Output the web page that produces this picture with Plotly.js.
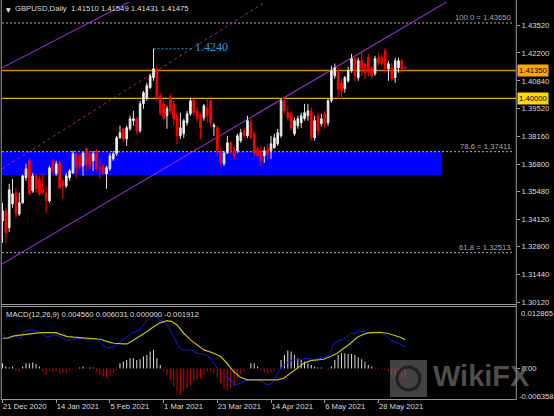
<!DOCTYPE html>
<html><head><meta charset="utf-8">
<script src="https://cdn.plot.ly/plotly-3.0.1.min.js"></script>
<style>html,body{margin:0;padding:0;background:#000;}#c{width:554px;height:416px;}</style>
</head><body><div id="c"></div>
<script>
const dates = ["2020-12-21","2020-12-22","2020-12-23","2020-12-24","2020-12-28","2020-12-29","2020-12-30","2020-12-31",
"2021-01-04","2021-01-05","2021-01-06","2021-01-07","2021-01-08","2021-01-11","2021-01-12","2021-01-13","2021-01-14","2021-01-15","2021-01-18","2021-01-19","2021-01-20","2021-01-21","2021-01-22","2021-01-25","2021-01-26","2021-01-27","2021-01-28","2021-01-29",
"2021-02-01","2021-02-02","2021-02-03","2021-02-04","2021-02-05","2021-02-08","2021-02-09","2021-02-10","2021-02-11","2021-02-12","2021-02-15","2021-02-16","2021-02-17","2021-02-18","2021-02-19","2021-02-22","2021-02-23","2021-02-24","2021-02-25","2021-02-26",
"2021-03-01","2021-03-02","2021-03-03","2021-03-04","2021-03-05","2021-03-08","2021-03-09","2021-03-10","2021-03-11","2021-03-12","2021-03-15","2021-03-16","2021-03-17","2021-03-18","2021-03-19","2021-03-22","2021-03-23","2021-03-24","2021-03-25","2021-03-26","2021-03-29","2021-03-30","2021-03-31",
"2021-04-01","2021-04-02","2021-04-05","2021-04-06","2021-04-07","2021-04-08","2021-04-09","2021-04-12","2021-04-13","2021-04-14","2021-04-15","2021-04-16","2021-04-19","2021-04-20","2021-04-21","2021-04-22","2021-04-23","2021-04-26","2021-04-27","2021-04-28","2021-04-29","2021-04-30",
"2021-05-03","2021-05-04","2021-05-05","2021-05-06","2021-05-07","2021-05-10","2021-05-11","2021-05-12","2021-05-13","2021-05-14","2021-05-17","2021-05-18","2021-05-19","2021-05-20","2021-05-21","2021-05-24","2021-05-25","2021-05-26","2021-05-27","2021-05-28","2021-05-31",
"2021-06-01","2021-06-02","2021-06-03","2021-06-04","2021-06-07","2021-06-08","2021-06-09"];

const open = [
1.3405,1.3454,1.3372,1.3488,1.3541,1.3439,1.3493,1.3614,1.3697,1.3551,
1.3624,1.3609,1.3561,1.3541,1.3503,1.3697,1.3634,1.3687,1.3600,1.3575,
1.3614,1.3638,1.3731,1.3721,1.3672,1.3755,1.3731,1.3697,1.3745,1.3663,
1.3672,1.3634,1.3658,1.3706,1.3731,1.3808,1.3852,1.3803,1.3852,1.3891,
1.3901,1.3842,1.3973,1.3998,1.4051,1.4100,1.4143,1.4012,1.3973,1.3915,
1.4007,1.3973,1.3915,1.3818,1.3828,1.3881,1.3925,1.3993,1.3939,1.3920,
1.3905,1.3954,1.3988,1.3862,1.3857,1.3745,1.3682,1.3735,1.3784,1.3755,
1.3745,1.3794,1.3842,1.3818,1.3881,1.3828,1.3755,1.3745,1.3721,1.3755,
1.3745,1.3760,1.3779,1.3818,1.3988,1.3930,1.3925,1.3828,1.3867,1.3881,
1.3901,1.3915,1.3939,1.3808,1.3915,1.3876,1.3925,1.3881,1.3988,1.4109,
1.4134,1.4075,1.4046,1.4085,1.4134,1.4192,1.4100,1.4182,1.4167,1.4197,
1.4148,1.4119,1.4197,1.4197,1.4231,1.4143,1.4148,1.4100,1.4148,1.4182,
1.41510];
const high = [
1.3493,1.3469,1.3585,1.3609,1.3566,1.3541,1.3630,1.3682,1.3711,1.3638,
1.3634,1.3624,1.3638,1.3575,1.3672,1.3706,1.3697,1.3697,1.3605,1.3638,
1.3658,1.3745,1.3735,1.3731,1.3740,1.3760,1.3745,1.3745,1.3755,1.3706,
1.3682,1.3672,1.3735,1.3745,1.3818,1.3867,1.3857,1.3867,1.3915,1.3939,
1.3910,1.3988,1.4036,1.4075,1.4119,1.4240,1.4153,1.4027,1.3988,1.3964,
1.4022,1.3988,1.3930,1.3930,1.3901,1.3939,1.4003,1.4007,1.3959,1.3930,
1.3973,1.3998,1.3998,1.3881,1.3867,1.3755,1.3745,1.3818,1.3794,1.3769,
1.3828,1.3852,1.3857,1.3915,1.3901,1.3842,1.3769,1.3769,1.3764,1.3779,
1.3818,1.3828,1.3852,1.3998,1.4003,1.3964,1.3939,1.3905,1.3915,1.3930,
1.3973,1.3973,1.3954,1.3915,1.3930,1.3925,1.3939,1.3998,1.4158,1.4168,
1.4148,1.4095,1.4109,1.4153,1.4216,1.4206,1.4197,1.4231,1.4172,1.4216,
1.4158,1.4206,1.4221,1.4206,1.4245,1.4182,1.4172,1.4197,1.4197,1.4192,
1.41549];
const low = [
1.3299,1.3299,1.3352,1.3469,1.3420,1.3430,1.3488,1.3600,1.3530,1.3541,
1.3541,1.3527,1.3537,1.3444,1.3493,1.3634,1.3624,1.3560,1.3512,1.3566,
1.3600,1.3634,1.3614,1.3658,1.3624,1.3648,1.3658,1.3648,1.3648,1.3609,
1.3630,1.3561,1.3648,1.3697,1.3721,1.3803,1.3784,1.3769,1.3842,1.3867,
1.3828,1.3833,1.3949,1.3988,1.4046,1.4085,1.3988,1.3915,1.3891,1.3852,
1.3925,1.3867,1.3779,1.3803,1.3808,1.3867,1.3915,1.3915,1.3881,1.3803,
1.3891,1.3881,1.3867,1.3818,1.3721,1.3672,1.3672,1.3731,1.3731,1.3706,
1.3735,1.3784,1.3808,1.3808,1.3803,1.3721,1.3711,1.3672,1.3687,1.3706,
1.3706,1.3755,1.3769,1.3808,1.3925,1.3891,1.3842,1.3818,1.3852,1.3857,
1.3891,1.3891,1.3794,1.3794,1.3818,1.3862,1.3852,1.3867,1.3978,1.4095,
1.3998,1.3998,1.4027,1.4075,1.4124,1.4085,1.4085,1.4109,1.4095,1.4109,
1.4095,1.4109,1.4158,1.4158,1.4124,1.4085,1.4085,1.4075,1.4124,1.4124,
1.41431];
const close = [
1.3454,1.3347,1.3556,1.3537,1.3439,1.3493,1.3624,1.3658,1.3537,1.3624,
1.3561,1.3537,1.3541,1.3503,1.3663,1.3648,1.3682,1.3566,1.3575,1.3624,
1.3648,1.3731,1.3663,1.3672,1.3735,1.3682,1.3672,1.3731,1.3658,1.3658,
1.3634,1.3663,1.3721,1.3731,1.3808,1.3833,1.3803,1.3857,1.3901,1.3901,
1.3842,1.3973,1.4027,1.4061,1.4109,1.4143,1.4002,1.3930,1.3905,1.3949,
1.3939,1.3901,1.3818,1.3857,1.3891,1.3925,1.3988,1.3930,1.3901,1.3857,
1.3964,1.3915,1.3881,1.3870,1.3745,1.3687,1.3735,1.3784,1.3745,1.3721,
1.3818,1.3833,1.3818,1.3891,1.3808,1.3735,1.3721,1.3697,1.3745,1.3731,
1.3779,1.3808,1.3833,1.3988,1.3939,1.3905,1.3857,1.3891,1.3901,1.3915,
1.3930,1.3939,1.3808,1.3891,1.3842,1.3901,1.3876,1.3988,1.4134,1.4148,
1.4046,1.4036,1.4100,1.4134,1.4192,1.4109,1.4182,1.4143,1.4124,1.4124,
1.4109,1.4192,1.4172,1.4167,1.4143,1.4167,1.4095,1.4182,1.4182,1.4143,
1.41475];

// MACD panel
const hist = [
0.00111,0.00042,0.00028,0.00042,-0.00042,-0.00056,0.00042,0.00111,0.00111,0.00125,
0.00098,0.00042,-0.00063,-0.00132,-0.00063,-0.00084,-0.00063,-0.00098,-0.00084,-0.00098,
-0.00063,-0.00014,-0.00014,0.00021,0.00042,-0.00007,0.00021,0.00021,-0.00063,-0.00132,
-0.00167,-0.00181,-0.00153,-0.00098,-0.00042,0.00111,0.00146,0.00181,0.00216,0.00216,
0.00181,0.00195,0.00251,0.00286,0.00355,0.00390,0.00216,0.00077,-0.00063,-0.00132,
-0.00237,-0.00376,-0.00481,-0.00550,-0.00481,-0.00411,-0.00341,-0.00272,-0.00237,-0.00202,
-0.00132,-0.00063,-0.00063,-0.00098,-0.00202,-0.00306,-0.00432,-0.00446,-0.00411,-0.00362,
-0.00202,-0.00111,-0.00063,-0.00014,0.00111,0.00111,0.00042,-0.00042,-0.00084,-0.00098,
-0.00084,-0.00042,-0.00014,0.00181,0.00286,0.00376,0.00355,0.00286,0.00216,0.00181,
0.00146,0.00111,0.00077,0.00042,0.00021,0.00021,-0.00007,-0.00028,0.00042,0.00181,
0.00286,0.00320,0.00320,0.00306,0.00306,0.00286,0.00237,0.00195,0.00146,0.00077,
0.00042,-0.00014,-0.00014,-0.00014,-0.00028,-0.00063,-0.00132,-0.00167,-0.00181,-0.00202,
-0.001912];
const macdPos = [0,0.9,2.4,3.9,5.4,6.4,7.8,9.3,10.8,12.3,13.3,15.3,17.3,18.8,20.3,22.2,25.2,28.2,29.2,31.2,33.2,35.2,37.1,39.1,40.6,42.1,43.6,44.4,45.1,46.0,46.6,48.1,49.6,51.0,52.5,53.5,56.0,58.0,60.0,61.5,63.0,64.4,65.9,67.9,69.4,70.9,72.4,73.9,75.9,77.4,78.8,80.3,81.8,83.3,84.8,86.3,87.8,89.3,90.8,92.3,93.7,95.2,96.7,97.7,98.7,99.7,101.2,102.2,103.7,105.2,106.2,107.6,109.6,112.6,114.6,115.6,117.6,120];
const macdVal = [0.00738,0.00634,0.00669,0.00683,0.00634,0.00773,0.00808,0.00808,0.00773,0.00703,0.00655,0.00703,0.00669,0.00599,0.00599,0.00634,0.00613,0.00613,0.00529,0.00425,0.00460,0.00564,0.00669,0.00773,0.00794,0.00912,0.01052,0.01110,0.01165,0.01110,0.01017,0.00982,0.00843,0.00669,0.00460,0.00390,0.00390,0.00320,0.00299,0.00251,0.00111,-0.00028,-0.00132,-0.00237,-0.00341,-0.00306,-0.00251,-0.00237,-0.00237,-0.00272,-0.00341,-0.00306,-0.00132,0.00042,0.00111,0.00181,0.00181,0.00195,0.00216,0.00195,0.00195,0.00216,0.00251,0.00320,0.00529,0.00564,0.00599,0.00634,0.00738,0.00738,0.00794,0.00773,0.00738,0.00738,0.00683,0.00599,0.00529,0.00456];
const sigPos = [0,1.4,3.4,5.4,7.3,9.3,11.3,13.3,15.8,17.8,19.3,21.3,24.2,27.2,29.2,31.2,33.2,36.1,37.1,39.1,41.1,43.1,45.1,47.1,49.1,50.5,52.0,54.0,56.0,58.0,60.0,63.0,65.0,66.9,68.9,70.9,72.9,74.9,78.9,81.8,83.8,85.8,87.8,89.8,91.8,93.7,95.7,97.7,99.7,101.7,103.7,105.7,107.6,109.6,112.6,114.6,116.6,118.6,120];
const sigVal = [0.00634,0.00634,0.00683,0.00703,0.00717,0.00738,0.00752,0.00752,0.00752,0.00703,0.00669,0.00655,0.00634,0.00627,0.00613,0.00564,0.00529,0.00515,0.00515,0.00599,0.00683,0.00773,0.00878,0.00961,0.01003,0.00982,0.00912,0.00738,0.00599,0.00494,0.00390,0.00320,0.00251,0.00111,-0.00063,-0.00181,-0.00237,-0.00237,-0.00237,-0.00237,-0.00202,-0.00098,0.00007,0.00111,0.00167,0.00181,0.00195,0.00251,0.00320,0.00425,0.00529,0.00655,0.00717,0.00752,0.00759,0.00738,0.00703,0.00655,0.006031];

// axis labels
const tickDates = ["2020-12-21","2021-01-14","2021-02-05","2021-03-01","2021-03-23","2021-04-14","2021-05-06","2021-05-28"];
const tickDateText = ["21 Dec 2020","14 Jan 2021","5 Feb 2021","1 Mar 2021","23 Mar 2021","14 Apr 2021","6 May 2021","28 May 2021"];
const priceTicks = [1.4352,1.4220,1.4084,1.3952,1.3816,1.3680,1.3548,1.3412,1.3280,1.3144,1.3012];
const priceTickText = ["1.43520","1.42200","1.40840","1.39520","1.38160","1.36800","1.35480","1.34120","1.32800","1.31440","1.30120"];
const macdMax = 0.012865, macdMin = -0.006358;

// drawn objects
const levelPrices = [1.41350, 1.40000];
const levelText = ["1.41350", "1.40000"];
const fibNames = ["100.0", "78.6", "61.8"];
const fibPrices = [1.43650, 1.37411, 1.32513];
const zoneLow = 1.3628, zoneHigh = 1.37411, zoneEnd = 130.9;
const chLowerX = [-0.15, 132.3], chLowerY = [1.3196, 1.4467];
const chUpperX = [-0.15, 37.75], chUpperY = [1.4148, 1.4467];
const chMidX = [-0.15, 78.3], chMidY = [1.3658, 1.4467];
const peakPrice = 1.4240, peakIdx = 45, peakLabelIdx = 56.8;
const header = "GBPUSD,Daily\u00a0\u00a01.41510 1.41549 1.41431 1.41475";
const macdTitle = "MACD(12,26,9) 0.004560 0.006031 0.000000 -0.001912";

const idx = dates.map((d, i) => i);
const FONT = "Liberation Sans, Arial, sans-serif";
const TXT = "#DCDCDC";
const GRAY = "#A0A0A0";

const traces = [
  {type:'candlestick', x: idx, open, high, low, close, xaxis:'x', yaxis:'y',
   increasing:{line:{color:'#E6E6E6', width:1}, fillcolor:'#FFFFFF'},
   decreasing:{line:{color:'#FF0000', width:1}, fillcolor:'#FF0000'},
   whiskerwidth:0, hoverinfo:'skip'},
  {type:'bar', x: idx, y: hist, xaxis:'x', yaxis:'y2', width:0.32,
   marker:{color: hist.map(v => v >= 0 ? '#D0D0D0' : '#C80000'), line:{width:0}}, hoverinfo:'skip'},
  {type:'scatter', mode:'lines', x: macdPos, y: macdVal, xaxis:'x', yaxis:'y2',
   line:{color:'#1515F0', width:1}, hoverinfo:'skip'},
  {type:'scatter', mode:'lines', x: sigPos, y: sigVal, xaxis:'x', yaxis:'y2',
   line:{color:'#C8C000', width:1.2}, hoverinfo:'skip'}
];

const shapes = [];
shapes.push({type:'rect', xref:'x', yref:'y', x0:-0.15, x1:zoneEnd, y0:zoneLow, y1:zoneHigh,
  fillcolor:'#0000FF', line:{width:0}, layer:'below'});
shapes.push({type:'line', xref:'paper', yref:'y', x0:0, x1:1, y0:levelPrices[0], y1:levelPrices[0],
  line:{color:'#D08A0A', width:1.6}, layer:'below'});
shapes.push({type:'line', xref:'paper', yref:'y', x0:0, x1:1, y0:levelPrices[1], y1:levelPrices[1],
  line:{color:'#DDB400', width:1.3}, layer:'below'});
fibPrices.forEach(p => shapes.push({type:'line', xref:'x', yref:'y', x0:-0.15, x1:152.1, y0:p, y1:p,
  line:{color:'#B0B0B0', width:1, dash:'2px,2px'}, layer:'below'}));
shapes.push({type:'line', xref:'x', yref:'y', x0:chLowerX[0], x1:chLowerX[1], y0:chLowerY[0], y1:chLowerY[1],
  line:{color:'#8E2DC5', width:1.1}, layer:'below'});
shapes.push({type:'line', xref:'x', yref:'y', x0:chUpperX[0], x1:chUpperX[1], y0:chUpperY[0], y1:chUpperY[1],
  line:{color:'#8E2DC5', width:1.1}, layer:'below'});
shapes.push({type:'line', xref:'x', yref:'y', x0:chMidX[0], x1:chMidX[1], y0:chMidY[0], y1:chMidY[1],
  line:{color:'#A8228E', width:1, dash:'3px,3px'}, layer:'below'});
shapes.push({type:'line', xref:'x', yref:'y', x0:peakIdx, x1:peakLabelIdx, y0:peakPrice, y1:peakPrice,
  line:{color:'#2A9FD6', width:1, dash:'2px,2px'}, layer:'below'});
const fr = {color:'#9A9A9A', width:1};
shapes.push({type:'line', xref:'paper', yref:'paper', x0:-0.0015, x1:-0.0015, y0:-0.002, y1:1.01, line:fr});
shapes.push({type:'line', xref:'paper', yref:'paper', x0:1.0005, x1:1.0005, y0:-0.002, y1:1.01, line:fr});
shapes.push({type:'line', xref:'paper', yref:'paper', x0:-0.002, x1:1.0005, y0:0.2380, y1:0.2380, line:fr});
shapes.push({type:'line', xref:'paper', yref:'paper', x0:-0.002, x1:1.0005, y0:0.2330, y1:0.2330, line:fr});
shapes.push({type:'line', xref:'paper', yref:'paper', x0:-0.002, x1:1.0005, y0:-0.0013, y1:-0.0013, line:fr});
// watermark logo
shapes.push({type:'rect', xref:'paper', yref:'paper', x0:(390-2)/514, x1:(427-2)/514, y0:(399-397)/397, y1:(399-360)/397,
  fillcolor:'rgba(120,120,120,0.55)', line:{width:0}, layer:'above'});
shapes.push({type:'circle', xref:'paper', yref:'paper', x0:(397-2)/514, x1:(420-2)/514, y0:(399-390)/397, y1:(399-367)/397,
  fillcolor:'rgba(0,0,0,0)', line:{color:'rgba(25,25,25,0.8)', width:3}, layer:'above'});

const sm = {family:FONT, size:7.7, color:TXT};
const annotations = [
  {xref:'paper', yref:'paper', x:(4-2)/514, y:(399-9)/397, xanchor:'left', yanchor:'middle', showarrow:false,
   text:'\u25BC', font:{family:'DejaVu Sans', size:6, color:'#E8E8E8'}},
  {xref:'paper', yref:'paper', x:(13-2)/514, y:(399-8)/397, xanchor:'left', yanchor:'middle', showarrow:false,
   text: header, font:sm},
  {xref:'paper', yref:'paper', x:(4-2)/514, y:(399-314)/397, xanchor:'left', yanchor:'middle', showarrow:false,
   text: macdTitle, font:sm},
  {xref:'x', yref:'y', x:peakLabelIdx, y:peakPrice, xanchor:'left', yanchor:'middle', yshift:2, showarrow:false,
   text: peakPrice.toFixed(4), font:{family:'Liberation Serif, serif', size:12, color:'#2A9FD6'}},
  {xref:'paper', yref:'paper', x:(519-2)/514, y:(399-313)/397, xanchor:'left', yanchor:'middle', showarrow:false,
   text: macdMax.toFixed(6), font:sm},
  {xref:'paper', yref:'paper', x:(517-2)/514, y:(399-396)/397, xanchor:'left', yanchor:'middle', showarrow:false,
   text: macdMin.toFixed(6), font:sm},
  {xref:'paper', yref:'paper', x:(431-2)/514, y:(399-376)/397, xanchor:'left', yanchor:'middle', showarrow:false,
   text:'<b>WikiFX</b>', font:{family:FONT, size:29, color:'rgba(130,130,130,0.6)'}}
];
fibNames.forEach((n, k) => annotations.push({xref:'x', yref:'y', x:152.1, y:fibPrices[k], xanchor:'right', yanchor:'bottom',
  yshift:-1, showarrow:false, text: n + ' = ' + fibPrices[k].toFixed(5), font:{family:FONT, size:7.7, color:'#A8A8A8'}}));
const boxColors = ['#FFA500', '#FFD800'];
levelPrices.forEach((p, k) => annotations.push({xref:'paper', yref:'y', x:(517-2)/514, y:p, xanchor:'left', yanchor:'middle',
  showarrow:false, text: levelText[k], bgcolor: boxColors[k], borderpad:1, font:{family:FONT, size:7.7, color:'#000000'}}));

const layout = {
  width:554, height:416, margin:{l:2, r:38, t:2, b:17},
  paper_bgcolor:'#000000', plot_bgcolor:'#000000', showlegend:false,
  xaxis:{type:'linear', range:[-0.15, 153.0], anchor:'y2', showgrid:false, zeroline:false, showline:false,
    tickvals: tickDates.map(d => dates.indexOf(d)), ticktext: tickDateText,
    ticks:'outside', ticklen:3, tickcolor:GRAY, ticklabelposition:'outside right',
    tickfont:sm, rangeslider:{visible:false}, fixedrange:true},
  yaxis:{domain:[0.23929, 1], range:[1.30023, 1.44669], side:'right', anchor:'x',
    tickvals: priceTicks, ticktext: priceTickText, ticks:'outside', ticklen:3, tickcolor:GRAY,
    showgrid:false, zeroline:false, showline:false, tickfont:sm, fixedrange:true},
  yaxis2:{domain:[0, 0.23174], range:[macdMin, macdMax], side:'right', anchor:'x',
    tickvals:[0], ticktext:['0.00'], ticks:'outside', ticklen:3, tickcolor:GRAY,
    showgrid:false, zeroline:false, showline:false, tickfont:sm, fixedrange:true},
  shapes, annotations
};
Plotly.newPlot('c', traces, layout, {staticPlot:true, displayModeBar:false});
</script></body></html>
